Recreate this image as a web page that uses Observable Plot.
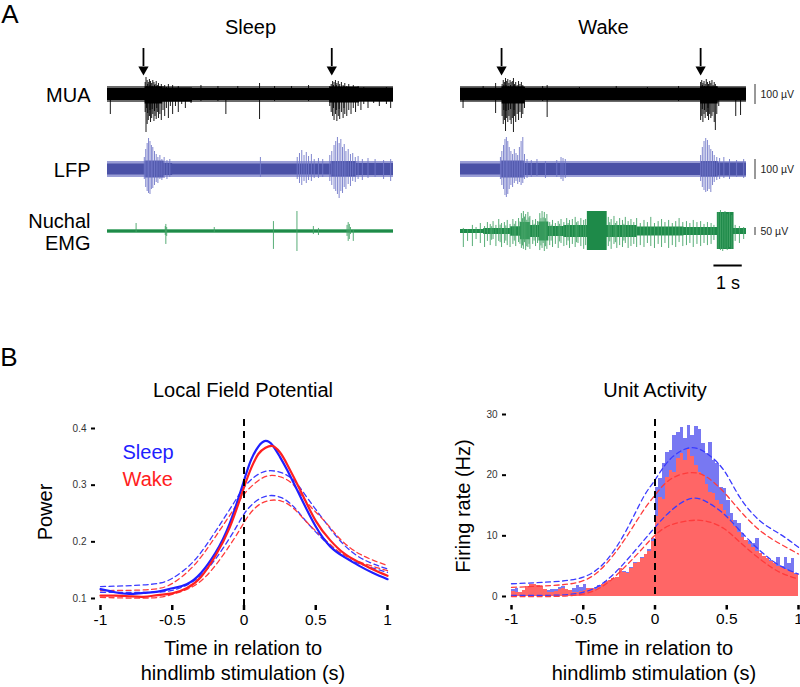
<!DOCTYPE html>
<html><head><meta charset="utf-8">
<script src="https://cdn.jsdelivr.net/npm/d3@7"></script>
<script src="https://cdn.jsdelivr.net/npm/@observablehq/plot@0.6"></script>
<style>
body{margin:0;background:#fff;}
#fig{position:relative;width:800px;height:687px;font-family:"Liberation Sans",Arial,sans-serif;color:#000;overflow:hidden;background:#fff;}
.abs{position:absolute;white-space:nowrap;line-height:1;}
.c{transform:translate(-50%,-50%);}
.r{transform:translate(-50%,-50%) rotate(-90deg);}
#fig svg{position:absolute;}
</style></head><body><div id="fig"></div>
<script>
// ---------------- Panel A data (time in s, amplitudes in µV: [t, up, down]) ----------------
const states = ["Sleep", "Wake"];
const rowLabels = ["MUA", "LFP", "Nuchal\nEMG"];
const traceDuration = 10.1;
const stimSleep = [1.27, 7.92];
const stimWake = [1.45, 8.48];
const scaleBarsUV = [100, 100, 50];
const timeBarS = 1;
// outer (noisy fringe) half-width of each trace's baseline, µV
const fringeUV = [40, 40, 12];

const muaSleepEnv = [[0,30,30],[1.33,38,48],[1.95,32,38],[3.0,30,30],[7.85,36,42],[8.9,32,36],[10.1,32,36]];
const muaWakeEnv = [[0,31,31],[1.47,38,48],[2.28,31,31],[8.48,38,48],[9.1,33,33],[10.1,33,33]];
const muaSleepSpikes = [[0.10,0,100],[1.33,60,90],[1.36,85,190],[1.38,40,70],[1.40,70,150],[1.42,50,95],[1.44,60,130],[1.48,75,110],[1.50,45,80],[1.52,65,140],[1.56,55,120],[1.58,40,75],[1.60,70,100],[1.64,60,135],[1.66,45,85],[1.68,50,110],[1.72,65,125],[1.74,40,70],[1.76,45,90],[1.80,55,120],[1.85,40,100],[1.90,50,130],[1.96,40,80],[2.02,45,110],[2.08,35,70],[2.15,50,120],[2.22,30,60],[2.30,45,100],[2.40,30,60],[2.50,40,90],[2.62,25,50],[2.75,30,70],[2.95,25,45],[3.3,45,35],[3.9,40,35],[4.18,15,100],[4.6,40,30],[5.37,55,125],[5.9,40,35],[6.5,40,30],[7.1,45,35],[7.85,40,60],[7.90,50,90],[7.95,65,110],[7.98,45,70],[8.00,60,130],[8.05,70,100],[8.08,45,80],[8.10,55,135],[8.15,65,110],[8.18,40,75],[8.20,50,125],[8.26,60,90],[8.32,45,120],[8.35,40,70],[8.38,55,100],[8.45,40,110],[8.52,50,80],[8.60,35,100],[8.68,45,70],[8.76,30,90],[8.85,40,60],[8.95,25,80],[9.05,35,50],[9.20,30,70],[9.40,25,45],[9.60,30,60],[9.85,35,50],[10.0,20,70]];
const muaWakeSpikes = [[0.09,10,70],[0.8,40,30],[1.24,55,95],[1.47,50,110],[1.51,70,150],[1.53,45,80],[1.55,60,130],[1.59,80,185],[1.61,45,85],[1.63,65,120],[1.67,75,140],[1.69,40,80],[1.71,55,110],[1.75,70,130],[1.77,45,75],[1.79,60,150],[1.83,65,120],[1.87,80,190],[1.89,45,80],[1.91,50,110],[1.95,60,140],[2.00,45,100],[2.05,65,130],[2.10,50,90],[2.15,60,120],[2.20,45,100],[2.26,35,70],[2.9,40,35],[3.06,45,115],[4.2,35,30],[5.5,40,30],[6.6,35,30],[7.7,40,35],[8.48,60,130],[8.52,70,110],[8.54,45,75],[8.56,55,140],[8.60,65,100],[8.62,40,80],[8.64,50,120],[8.68,75,90],[8.72,60,110],[8.74,40,70],[8.76,50,130],[8.80,65,100],[8.84,55,120],[8.88,70,110],[8.92,45,90],[8.96,60,140],[9.00,50,180],[9.05,40,100],[9.12,30,60],[9.72,20,110],[9.89,30,105]];

const lfpSleepEnv = [[0,27,27],[1.33,42,42],[2.0,30,30],[2.3,27,27],[7.9,40,38],[8.8,30,30],[10.1,30,30]];
const lfpWakeEnv = [[0,27,27],[1.45,42,42],[2.25,30,30],[8.5,40,38],[9.1,32,32],[10.1,32,32]];
const lfpSleepSpikes = [[1.30,60,50],[1.35,100,90],[1.40,130,110],[1.45,155,120],[1.50,140,125],[1.55,120,100],[1.60,110,95],[1.66,90,80],[1.72,75,65],[1.78,60,70],[1.85,70,50],[1.92,50,55],[2.00,60,45],[2.10,45,50],[2.20,50,40],[5.40,60,40],[6.70,60,50],[6.78,80,70],[6.86,95,80],[6.94,70,60],[7.02,85,70],[7.10,65,55],[7.20,75,60],[7.30,50,45],[7.45,55,45],[7.60,50,40],[7.85,70,60],[7.92,90,80],[8.00,120,100],[8.06,140,110],[8.12,160,125],[8.18,130,145],[8.24,150,110],[8.30,110,120],[8.36,125,90],[8.42,90,100],[8.50,100,75],[8.58,75,85],[8.66,80,60],[8.75,60,65],[8.85,65,50],[9.00,50,55],[9.20,55,45],[9.45,50,40],[9.75,45,50],[10.0,50,60]];
const lfpWakeSpikes = [[1.41,60,50],[1.46,90,80],[1.52,120,100],[1.57,150,130],[1.62,160,140],[1.67,140,125],[1.72,110,100],[1.78,90,80],[1.84,75,90],[1.90,100,70],[1.96,80,60],[2.02,70,75],[2.08,110,65],[2.14,140,80],[2.20,160,70],[2.26,75,50],[2.35,50,45],[2.50,45,40],[2.70,50,35],[3.00,40,45],[3.40,45,40],[3.55,60,50],[3.62,55,60],[3.70,50,45],[8.48,70,60],[8.54,110,90],[8.60,140,105],[8.66,155,115],[8.72,145,110],[8.78,120,100],[8.84,100,115],[8.90,90,80],[8.96,70,65],[9.05,60,55],[9.15,55,50],[9.30,60,45],[9.50,50,50],[9.75,45,40],[10.0,50,45]];

const emgSleepEnv = [[0,8,8],[10.1,8,8]];
const emgWakeEnv = [[0,12,12],[0.82,19,19],[1.77,30,30],[2.12,56,52],[2.47,38,38],[2.77,60,60],[3.12,31,31],[3.65,38,38],[4.48,125,119],[5.18,38,38],[6.24,28,28],[7.89,25,25],[9.07,119,112],[9.66,19,19],[10.1,19,19]];
const emgSleepSpikes = [[1.01,50,6],[2.04,31,25],[2.06,44,81],[2.09,25,31],[3.77,25,6],[5.86,62,112],[6.69,125,125],[7.27,31,19],[7.45,19,25],[8.46,38,31],[8.50,56,62],[8.54,44,50],[8.58,25,19],[8.68,6,62]];
const emgWakeSpikes = [[0.10,19,100],[0.25,12,62],[0.42,38,94],[0.55,25,50],[0.70,50,75],[0.85,31,100],[0.95,56,62],[1.05,44,88],[1.10,30,55],[1.15,62,50],[1.25,38,94],[1.35,75,62],[1.40,40,70],[1.45,50,100],[1.55,56,75],[1.60,35,60],[1.65,69,88],[1.75,44,100],[1.85,75,81],[1.90,45,60],[1.95,62,94],[2.05,81,69],[2.10,60,80],[2.15,112,106],[2.19,80,90],[2.22,125,112],[2.26,90,70],[2.30,106,119],[2.34,70,95],[2.38,119,100],[2.42,85,80],[2.45,94,112],[2.55,69,81],[2.60,45,60],[2.65,75,94],[2.72,62,75],[2.80,112,119],[2.84,80,90],[2.88,125,106],[2.92,85,75],[2.96,119,125],[3.00,80,95],[3.05,106,112],[3.15,56,88],[3.20,40,60],[3.25,69,100],[3.35,50,81],[3.45,62,106],[3.50,45,65],[3.55,75,75],[3.65,56,94],[3.75,81,88],[3.80,50,60],[3.85,69,106],[3.95,75,81],[4.05,88,100],[4.10,55,70],[4.15,62,75],[4.25,81,94],[4.35,69,112],[4.42,75,88],[5.22,88,94],[5.27,55,65],[5.32,75,112],[5.42,94,81],[5.47,50,70],[5.52,62,106],[5.62,81,88],[5.72,69,100],[5.77,45,60],[5.82,88,75],[5.92,62,106],[6.02,75,94],[6.12,56,81],[6.22,81,100],[6.35,50,88],[6.48,69,100],[6.60,56,75],[6.72,88,94],[6.85,50,106],[6.98,62,81],[7.10,75,100],[7.22,56,75],[7.35,69,106],[7.48,50,88],[7.60,62,100],[7.72,81,69],[7.85,56,94],[7.98,62,88],[8.10,50,75],[8.22,69,100],[8.35,56,81],[8.48,62,94],[8.60,44,75],[8.72,56,88],[8.85,50,81],[8.95,38,56],[9.10,119,112],[9.18,131,119],[9.26,112,125],[9.34,125,106],[9.42,106,119],[9.50,119,100],[9.58,100,112],[9.70,38,62],[9.85,31,75],[10.0,25,50]];

// ---------------- Panel B data ----------------
const timeTicks = [-1, -0.5, 0, 0.5, 1];
const lfpYTicks = [0.1, 0.2, 0.3, 0.4];
const lfpT = [-1,-0.9,-0.8,-0.7,-0.6,-0.5,-0.4,-0.3,-0.2,-0.1,0,0.05,0.1,0.15,0.2,0.25,0.3,0.4,0.5,0.6,0.7,0.8,0.9,1];
const lfpSleepMean = [0.1165,0.111,0.108,0.110,0.112,0.118,0.125,0.145,0.180,0.232,0.308,0.345,0.368,0.378,0.370,0.350,0.327,0.276,0.227,0.192,0.173,0.158,0.145,0.134];
const lfpWakeMean = [0.105,0.105,0.104,0.103,0.106,0.109,0.118,0.138,0.175,0.225,0.296,0.330,0.355,0.366,0.369,0.358,0.337,0.287,0.237,0.203,0.179,0.164,0.151,0.140];
const lfpBandT = [-1,-0.65,-0.49,-0.35,-0.21,-0.07,0,0.07,0.16,0.26,0.35,0.44,0.56,0.67,0.81,1];
const lfpSleepHi = [0.121,0.125,0.137,0.166,0.214,0.269,0.296,0.314,0.325,0.322,0.308,0.278,0.237,0.202,0.172,0.152];
const lfpSleepLo = [0.111,0.111,0.115,0.131,0.166,0.219,0.249,0.269,0.281,0.278,0.261,0.234,0.202,0.178,0.161,0.146];
const lfpWakeHi = [0.114,0.116,0.128,0.158,0.205,0.258,0.284,0.302,0.316,0.314,0.299,0.269,0.237,0.205,0.178,0.158];
const lfpWakeLo = [0.102,0.101,0.108,0.122,0.155,0.205,0.234,0.258,0.272,0.272,0.258,0.234,0.205,0.181,0.164,0.149];

const unitYTicks = [0, 10, 20, 30];
const binWidth = 0.025;
const unitSleepHz = [1.2,1.3,0.7,0.6,1.0,1.3,1.2,1.0,0.9,0.8,1.0,1.2,1.1,1.5,1.6,1.2,1.0,1.4,1.8,1.5,1.9,1.4,1.2,1.5,1.8,1.7,2.0,2.6,2.8,3.0,3.8,4.2,4.0,4.8,5.6,5.2,6.4,6.6,7.8,9.6,18.0,19.5,22.0,23.8,24.0,26.5,27.0,27.9,26.0,28.2,26.5,28.0,27.6,25.2,23.5,25.4,22.4,22.0,18.0,17.8,15.8,13.7,12.5,12.0,10.4,8.7,9.0,8.8,9.5,7.0,6.5,6.2,5.9,5.4,6.5,5.0,6.4,5.4,6.2,3.8];
const unitWakeHz = [0.8,0.6,0.7,1.0,1.6,1.9,2.0,1.8,1.6,1.2,0.7,0.6,0.8,1.2,1.4,1.2,1.0,0.7,0.6,0.8,1.0,1.3,1.4,1.2,1.5,2.0,2.5,2.7,3.0,3.2,4.6,3.9,3.8,4.6,5.4,5.6,6.2,7.0,7.4,9.0,13.2,16.4,16.0,19.6,20.8,20.5,22.7,23.5,22.5,24.3,23.0,21.6,20.5,20.0,18.5,17.2,17.0,15.8,15.2,14.2,13.2,12.5,11.5,10.6,9.8,9.2,8.5,8.1,7.4,7.1,6.6,6.3,5.8,5.4,5.0,4.8,4.5,4.3,4.0,3.6];
const unitBandT = [-1,-0.73,-0.5,-0.34,-0.2,-0.08,0,0.1,0.24,0.36,0.48,0.59,0.73,0.87,1];
const unitSleepHi = [2.1,2.4,3.2,5.9,10.9,16.4,19.2,22.5,24.5,23.6,20.8,16.4,12.5,10.3,8.1];
const unitSleepLo = [0.2,0.2,0.7,2.6,5.9,9.2,11.4,13.9,16.1,15.6,13.6,10.9,7.6,5.1,3.7];
const unitWakeHi = [1.5,1.8,2.6,5.4,9.8,14.2,16.7,19.2,20.4,19.7,17.2,14.2,10.9,8.7,7.0];
const unitWakeLo = [0,0,0.4,2.1,5.1,8.1,10.1,11.7,12.5,12.4,11.2,9.0,6.2,4.0,2.9];

// ---------------- helpers ----------------
const fig = document.getElementById("fig");
function place(el, left, top) { el.style.left = left + "px"; el.style.top = top + "px"; fig.appendChild(el); }
function label(text, x, y, size, cls = "c", color = "#000") {
  const d = document.createElement("div");
  d.className = "abs " + cls; d.textContent = text;
  d.style.fontSize = size + "px"; d.style.color = color;
  place(d, x, y);
}
const rec = (state, arr) => arr.map(([t, up, down]) => ({state, t, up, down}));
const tStart = 8.95; // start of 1 s time bar (Wake facet)

function tracePlot(o) {
  const env = [...rec("Sleep", o.envS), ...rec("Wake", o.envW)];
  const spk = [...rec("Sleep", o.spkS), ...rec("Wake", o.spkW)];
  const fringe = states.flatMap(s => [0, traceDuration].map(t => ({state: s, t, w: o.fringe})));
  const marks = [
    Plot.areaY(fringe, {fx: "state", x: "t", y1: d => -d.w, y2: "w", fill: o.fringeColor}),
    Plot.areaY(env, {fx: "state", x: "t", y1: d => -d.down, y2: "up", curve: "step-after", fill: o.color}),
    Plot.ruleX(spk, {fx: "state", x: "t", y1: d => -d.down, y2: "up", stroke: o.spike, strokeWidth: 0.9}),
    Plot.text([{state: "Sleep", name: o.name}], {fx: "state", x: () => 0, y: () => 0, dx: -17, text: "name", textAnchor: "end", fontSize: 20, lineHeight: 1.1, fill: "#000"}),
    Plot.ruleX([{state: "Wake", v: o.bar}], {fx: "state", x: () => traceDuration, dx: 8.5, y1: d => -d.v / 2, y2: d => d.v / 2, stroke: "#333", strokeWidth: 1}),
    Plot.text([{state: "Wake", v: o.bar}], {fx: "state", x: () => traceDuration, y: () => 0, dx: 14, text: d => `${d.v} µV`, textAnchor: "start", fontSize: 10.5, fill: "#222"}),
    ...(o.extra || [])
  ];
  const svg = Plot.plot({
    width: 800, height: o.height, marginLeft: 107.3, marginRight: 53.3, marginTop: o.mt || 0, marginBottom: 0,
    x: {domain: [0, traceDuration], axis: null},
    y: {domain: o.domain, axis: null},
    fx: {domain: states, paddingInner: 0.189, paddingOuter: 0, label: null, axis: null},
    style: {background: "transparent", overflow: "visible", fontFamily: "Liberation Sans, Arial, sans-serif"},
    marks
  });
  place(svg, 0, o.top);
}

const arrows = [...stimSleep.map(t => ({state: "Sleep", t})), ...stimWake.map(t => ({state: "Wake", t}))];

tracePlot({
  name: rowLabels[0], top: 0, height: 135, mt: 40, domain: [-205, 270],
  envS: muaSleepEnv, envW: muaWakeEnv, spkS: muaSleepSpikes, spkW: muaWakeSpikes,
  color: "#000", spike: "#000", bar: scaleBarsUV[0], fringe: fringeUV[0], fringeColor: "#6a6a6a",
  extra: [
    Plot.text(states.map(s => ({state: s})), {fx: "state", frameAnchor: "top", dy: -21, text: "state", fontSize: 20, fill: "#000"}),
    Plot.ruleX(arrows, {fx: "state", x: "t", y1: () => 140, y2: () => 230, stroke: "#000", strokeWidth: 1.8}),
    Plot.dot(arrows, {fx: "state", x: "t", y: () => 125, symbol: "triangle", r: 3.8, rotate: 180, fill: "#000", stroke: "none"})
  ]
});
tracePlot({
  name: rowLabels[1], top: 135, height: 65, domain: [-155, 170],
  envS: lfpSleepEnv, envW: lfpWakeEnv, spkS: lfpSleepSpikes, spkW: lfpWakeSpikes,
  color: "#4a51a6", spike: "#7278c8", bar: scaleBarsUV[1], fringe: fringeUV[1], fringeColor: "#9a9ed6"
});
tracePlot({
  name: rowLabels[2], top: 200, height: 100, domain: [-431.25, 193.75],
  envS: emgSleepEnv, envW: emgWakeEnv, spkS: emgSleepSpikes, spkW: emgWakeSpikes,
  color: "#1e8a49", spike: "#45a468", bar: scaleBarsUV[2], fringe: fringeUV[2], fringeColor: "#7cc296",
  extra: [
    Plot.ruleY([{state: "Wake", s: timeBarS}], {fx: "state", x1: () => tStart, x2: d => tStart + d.s, y: () => 0, dy: 34, stroke: "#000", strokeWidth: 2}),
    Plot.text([{state: "Wake", s: timeBarS}], {fx: "state", x: d => tStart + d.s / 2, y: () => 0, dy: 52, text: d => `${d.s} s`, fontSize: 18, fill: "#000"})
  ]
});

// ---------------- Panel B ----------------
const blue = "#1f1fff", red = "#ff2020", blueD = "#3b3bff", redD = "#ff3b3b";
const zip = (ts, vs) => ts.map((t, i) => ({t, v: vs[i]}));
const xAxis = (dy, size) => Plot.axisX({ticks: timeTicks, tickSize: size, dy, tickPadding: 3, fontSize: 15.5, strokeWidth: 2.5, tickFormat: d => String(d), label: null, fill: "#000"});
const yAxis = (ticks, fmt) => Plot.axisY({ticks, tickSize: 4, dx: -5, tickPadding: 5, fontSize: 10, strokeWidth: 2, tickFormat: fmt, label: null, fill: "#333"});
const dash = (data, stroke) => Plot.line(data, {x: "t", y: "v", stroke, strokeWidth: 1.3, strokeDasharray: "5,3.5", curve: "natural"});
const bStyle = {background: "transparent", overflow: "visible", fontFamily: "Liberation Sans, Arial, sans-serif"};

const lfpPlot = Plot.plot({
  width: 400, height: 307, marginLeft: 100, marginRight: 13, marginTop: 48, marginBottom: 89,
  x: {domain: [-1, 1]}, y: {domain: [0.1, 0.4]}, style: bStyle,
  marks: [
    dash(zip(lfpBandT, lfpSleepHi), blueD), dash(zip(lfpBandT, lfpSleepLo), blueD),
    dash(zip(lfpBandT, lfpWakeHi), redD), dash(zip(lfpBandT, lfpWakeLo), redD),
    Plot.line(zip(lfpT, lfpSleepMean), {x: "t", y: "v", stroke: blue, strokeWidth: 2.2, curve: "natural"}),
    Plot.line(zip(lfpT, lfpWakeMean), {x: "t", y: "v", stroke: red, strokeWidth: 2.2, curve: "natural"}),
    Plot.ruleX([0], {stroke: "#000", strokeWidth: 2, strokeDasharray: "7,5", insetTop: -9, insetBottom: -9}),
    Plot.text([states[0]], {frameAnchor: "top-left", dx: 22, dy: 16, text: d => d, fill: blue, fontSize: 20, textAnchor: "start"}),
    Plot.text([states[1]], {frameAnchor: "top-left", dx: 22, dy: 43, text: d => d, fill: red, fontSize: 20, textAnchor: "start"}),
    yAxis(lfpYTicks, d3.format(".1f")),
    xAxis(7, 5)
  ]
});
place(lfpPlot, 0, 380);

const bins = (vals) => vals.map((v, i) => ({x1: -1 + i * binWidth, x2: -1 + (i + 1) * binWidth, v}));
const unitPlot = Plot.plot({
  width: 400, height: 307, marginLeft: 111, marginRight: 2, marginTop: 34, marginBottom: 91,
  x: {domain: [-1, 1]}, y: {domain: [0, 30]}, style: bStyle,
  marks: [
    Plot.rectY(bins(unitSleepHz), {x1: "x1", x2: "x2", y: "v", fill: "#7878f2", shapeRendering: "crispEdges"}),
    Plot.rectY(bins(unitWakeHz), {x1: "x1", x2: "x2", y: "v", fill: "#ff6666", shapeRendering: "crispEdges"}),
    dash(zip(unitBandT, unitSleepHi), blueD), dash(zip(unitBandT, unitSleepLo), blueD),
    dash(zip(unitBandT, unitWakeHi), redD), dash(zip(unitBandT, unitWakeLo), redD),
    Plot.ruleX([0], {stroke: "#000", strokeWidth: 2, strokeDasharray: "7,5", insetTop: 5, insetBottom: -1}),
    yAxis(unitYTicks, d => String(d)),
    xAxis(9, 4.5)
  ]
});
place(unitPlot, 400, 380);

// ---------------- text ----------------
label("A", 10, 14, 26);
label("B", 9, 357, 26);
label("Local Field Potential", 243, 390, 20);
label("Unit Activity", 655, 390, 20);
label("Power", 45, 512, 20, "r");
label("Firing rate (Hz)", 463, 506, 20, "r");
label("Time in relation to", 243, 648, 20);
label("hindlimb stimulation (s)", 243, 673, 20);
label("Time in relation to", 654, 648, 20);
label("hindlimb stimulation (s)", 654, 673, 20);
</script></body></html>
